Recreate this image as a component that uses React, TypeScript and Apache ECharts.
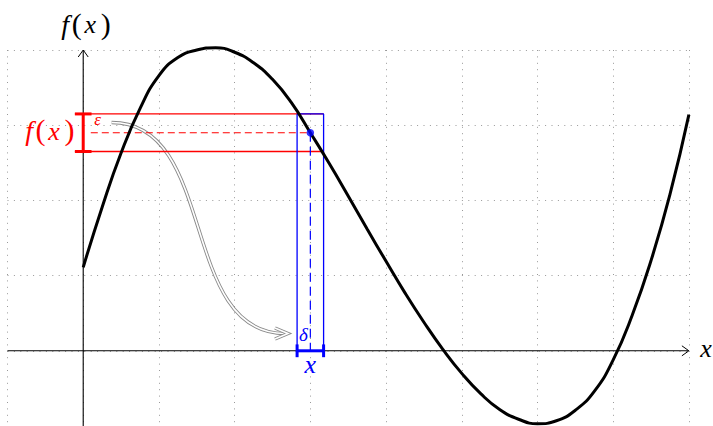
import React, { useEffect, useRef } from "react";
import * as echarts from "echarts";

// ---- data (in axis units) ----
const curveX = [0, 0.25, 0.5, 0.75, 1.0, 1.25, 1.5, 1.75, 2.0, 2.25, 2.5, 2.75, 3.0, 3.25, 3.5, 3.75, 4.0, 4.25, 4.5, 4.75, 5.0, 5.25, 5.5, 5.75, 6.0, 6.25, 6.5, 6.75, 7.0, 7.25, 7.5, 7.75, 8.0];
const curveY = [1.11, 1.91, 2.63, 3.22, 3.66, 3.9, 4.0, 4.03, 3.97, 3.83, 3.61, 3.3, 2.9, 2.49, 2.06, 1.62, 1.19, 0.77, 0.38, 0.02, -0.3, -0.57, -0.78, -0.91, -0.97, -0.93, -0.79, -0.54, -0.12, 0.47, 1.2, 2.08, 3.14];
const xRange = [-1, 8];
const yRange = [-1, 4];
const x0 = 3;
const fx0 = 2.9;
const eps = 0.25;
const delta = 0.175;

const FONT_FAMILY = "'Liberation Serif', 'DejaVu Serif', serif";
const RED = "#ff0000";
const BLUE = "#0000ff";

type Part = { t: string; it?: boolean; size: number; dx: number };
const FX_PARTS: Part[] = [
  { t: "f", it: true, size: 28, dx: -18 },
  { t: "(", size: 30, dx: -6.5 },
  { t: "x", it: true, size: 26, dx: 7 },
  { t: ")", size: 30, dx: 22.5 },
];

function seg(data: number[][], color: string, width: number, type: any = "solid", z = 3) {
  return {
    type: "line",
    data,
    symbol: "none",
    silent: true,
    clip: false,
    z,
    itemStyle: { color },
    lineStyle: { color, width, type, opacity: 1 },
  };
}

export default function App() {
  const ref = useRef<HTMLDivElement>(null);
  useEffect(() => {
    if (!ref.current) return;
    const chart = echarts.init(ref.current, undefined, { renderer: "svg" });
    const curve = curveX.map((x, i) => [x, curveY[i]]);
    const split = { show: true, lineStyle: { color: "#999999", width: 1, type: [1, 5.4] } };
    chart.setOption({
      animation: false,
      backgroundColor: "#ffffff",
      grid: { left: 7.5, right: 24.1, top: 50, bottom: -1.9 },
      xAxis: {
        type: "value", min: xRange[0], max: xRange[1], interval: 1,
        axisLine: { show: false }, axisTick: { show: false }, axisLabel: { show: false },
        splitLine: split,
      },
      yAxis: {
        type: "value", min: yRange[0], max: yRange[1], interval: 1,
        axisLine: { show: false }, axisTick: { show: false }, axisLabel: { show: false },
        splitLine: split,
      },
      series: [
        seg([[xRange[0], 0], [xRange[1] - 0.01, 0]], "#000000", 1.1, "solid", 2),
        seg([[0, yRange[0]], [0, yRange[1] - 0.01]], "#000000", 1.1, "solid", 2),
        // epsilon band
        seg([[-0.11, fx0 + eps], [x0 + delta, fx0 + eps]], RED, 1.3),
        seg([[-0.11, fx0 - eps], [x0 + delta, fx0 - eps]], RED, 1.3),
        seg([[0.1, fx0], [x0, fx0]], RED, 1.1, [7, 4]),
        seg([[0, fx0 - eps], [0, fx0 + eps]], RED, 3),
        seg([[-0.11, fx0 + eps], [0.11, fx0 + eps]], RED, 3),
        seg([[-0.11, fx0 - eps], [0.11, fx0 - eps]], RED, 3),
        // delta box
        seg([[x0 - delta, 0], [x0 - delta, fx0 + eps], [x0 + delta, fx0 + eps], [x0 + delta, 0]], BLUE, 1.3, "solid", 4),
        seg([[x0, fx0], [x0, 0]], BLUE, 1.2, [9, 5], 4),
        seg([[x0 - delta, 0], [x0 + delta, 0]], BLUE, 3, "solid", 4),
        seg([[x0 - delta, -0.085], [x0 - delta, 0.085]], BLUE, 3, "solid", 4),
        seg([[x0 + delta, -0.085], [x0 + delta, 0.085]], BLUE, 3, "solid", 4),
        {
          type: "line", data: curve, symbol: "none", smooth: 0.5,
          silent: true, z: 6, clip: false,
          itemStyle: { color: "#000" },
          lineStyle: { color: "#000", width: 3 },
        },
        {
          type: "scatter", data: [[x0, fx0]], symbol: "circle", symbolSize: 7.5, z: 8, silent: true,
          itemStyle: { color: BLUE },
        },
      ],
    });

    const P = (x: number, y: number) => chart.convertToPixel({ gridIndex: 0 }, [x, y]) as number[];
    const xt = P(xRange[1], 0);
    const yt = P(0, yRange[1]);
    const S = P(0.375, 3.035);
    const E = P(2.665, 0.23);
    const d = Math.hypot(E[0] - S[0], E[1] - S[1]) * 0.39;
    const bez = { x1: S[0], y1: S[1], cpx1: S[0] + d, cpy1: S[1], cpx2: E[0] - d, cpy2: E[1], x2: E[0], y2: E[1] };
    const head = [[E[0] - 10, E[1] - 5.5], [E[0] + 3, E[1]], [E[0] - 10, E[1] + 5.5]];
    // place text so that its alphabetic baseline sits at p[1]
    const math = (p: number[], parts: Part[], color: string, align = "center") =>
      parts.map((q) => ({
        type: "text", x: p[0] + q.dx, y: p[1] - 0.3375 * q.size, z: 20, silent: true,
        style: {
          text: q.t, align, verticalAlign: "middle", fill: color,
          font: `${q.it ? "italic " : ""}${q.size}px ${FONT_FAMILY}`,
        },
      }));
    chart.setOption({
      graphic: [
        { type: "polyline", z: 5, silent: true, shape: { points: [[xt[0] - 7, xt[1] - 5], [xt[0], xt[1]], [xt[0] - 7, xt[1] + 5]] }, style: { stroke: "#000", lineWidth: 1, fill: null } },
        { type: "polyline", z: 5, silent: true, shape: { points: [[yt[0] - 5, yt[1] + 7], [yt[0], yt[1]], [yt[0] + 5, yt[1] + 7]] }, style: { stroke: "#000", lineWidth: 1, fill: null } },
        { type: "bezierCurve", z: 1, silent: true, shape: bez, style: { stroke: "#8a8a8a", lineWidth: 3.4, fill: null } },
        { type: "bezierCurve", z: 1, silent: true, shape: bez, style: { stroke: "#ffffff", lineWidth: 1.6, fill: null } },
        { type: "polyline", z: 1, silent: true, shape: { points: head }, style: { stroke: "#8a8a8a", lineWidth: 3.4, fill: null, lineJoin: "miter" } },
        { type: "polyline", z: 1, silent: true, shape: { points: head }, style: { stroke: "#ffffff", lineWidth: 1.6, fill: null, lineJoin: "miter" } },
        ...math(P(0, 4.218), FX_PARTS, "#000"),
        ...math(P(-0.478, 2.806), FX_PARTS, RED),
        ...math(P(0.19, 3.0), [{ t: "ε", it: true, size: 17, dx: 0 }], RED),
        ...math(P(2.91, 0.127), [{ t: "δ", it: true, size: 19, dx: 0 }], BLUE),
        ...math(P(3.0, -0.3), [{ t: "x", it: true, size: 26, dx: 0 }], BLUE),
        ...math(P(8.15, -0.08), [{ t: "x", it: true, size: 26, dx: 0 }], "#000", "left"),
      ],
    });
    return () => chart.dispose();
  }, []);
  return <div ref={ref} style={{ position: "fixed", left: 0, top: 0, width: 713, height: 426, background: "#fff" }} />;
}
